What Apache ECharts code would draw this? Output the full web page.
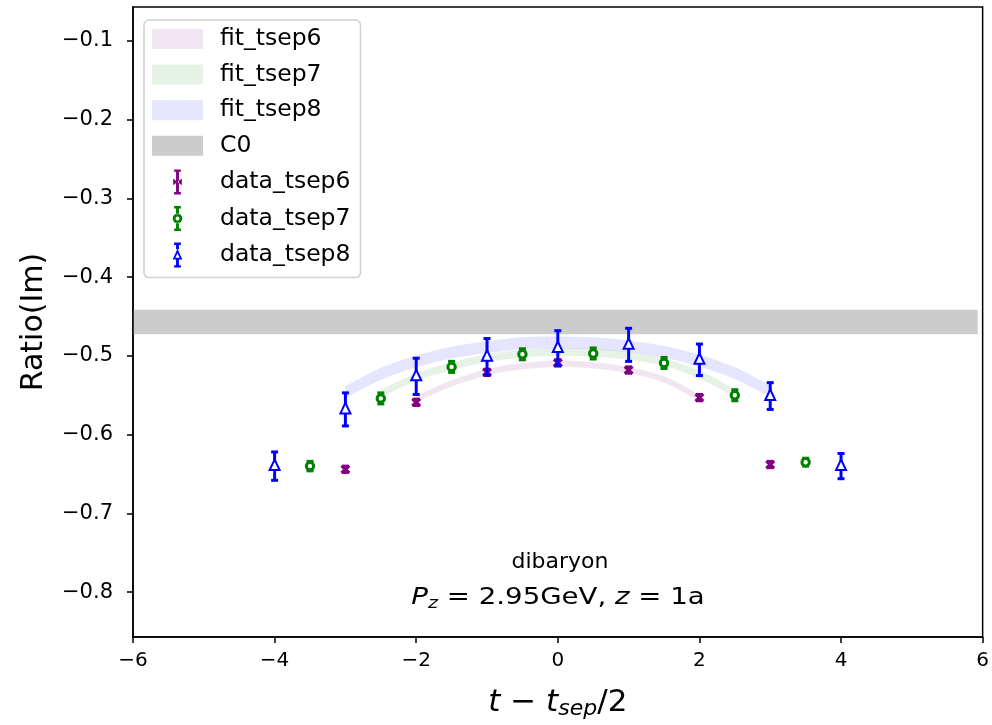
<!DOCTYPE html>
<html><head><meta charset="utf-8">
<script src="https://cdn.jsdelivr.net/npm/echarts@6/dist/echarts.min.js"></script>
<style>html,body{margin:0;padding:0;background:#fff}#c{width:992px;height:725px}</style>
</head><body><div id="c"></div>
<script>
// ---------- data ----------
const xTicks = [-6, -4, -2, 0, 2, 4, 6];
const yTicks = [-0.8, -0.7, -0.6, -0.5, -0.4, -0.3, -0.2, -0.1];

const t6 = [-3, -2, -1, 0, 1, 2, 3];
const r6 = [-0.644, -0.559, -0.521, -0.509, -0.518, -0.553, -0.638];
const e6 = [0.004, 0.004, 0.004, 0.004, 0.004, 0.004, 0.004];

const t7 = [-3.5, -2.5, -1.5, -0.5, 0.5, 1.5, 2.5, 3.5];
const r7 = [-0.640, -0.554, -0.514, -0.498, -0.497, -0.509, -0.550, -0.635];
const e7 = [0.006, 0.007, 0.007, 0.007, 0.007, 0.007, 0.007, 0.005];

const t8 = [-4, -3, -2, -1, 0, 1, 2, 3, 4];
const r8 = [-0.640, -0.568, -0.526, -0.501, -0.490, -0.486, -0.505, -0.551, -0.640];
const e8 = [0.018, 0.021, 0.023, 0.023, 0.022, 0.021, 0.020, 0.017, 0.016];

const fitX6 = [-2, -1.5, -1, -0.5, 0, 0.5, 1, 1.5, 2];
const fit6 = [-0.555, -0.535, -0.521, -0.513, -0.510, -0.512, -0.518, -0.530, -0.553];
const fit6Err = [0.004, 0.004, 0.004, 0.004, 0.004, 0.004, 0.004, 0.004, 0.004];

const fitX7 = [-2.5, -2, -1.5, -1, -0.5, 0, 0.5, 1, 1.5, 2, 2.5];
const fit7 = [-0.548, -0.527, -0.513, -0.503, -0.497, -0.495, -0.496, -0.500, -0.508, -0.524, -0.547];
const fit7Err = [0.005, 0.005, 0.005, 0.005, 0.005, 0.005, 0.005, 0.005, 0.005, 0.005, 0.005];

const fitX8 = [-3, -2.5, -2, -1.5, -1, -0.5, 0, 0.5, 1, 1.5, 2, 2.5, 3];
const fit8 = [-0.546, -0.523, -0.507, -0.496, -0.489, -0.484, -0.483, -0.484, -0.488, -0.495, -0.506, -0.522, -0.545];
const fit8Err = [0.0075, 0.0075, 0.0075, 0.0075, 0.0075, 0.0075, 0.0075, 0.0075, 0.0075, 0.0075, 0.0075, 0.0075, 0.0075];

const c0X = [-6, 5.93];
const c0 = [-0.457, -0.457];
const c0Err = [0.0157, 0.0157];

// ---------- helpers ----------
const FONT = '"DejaVu Sans", sans-serif';

function curve(pts, move) {
  let d = move ? 'M' + pts[0][0] + ',' + pts[0][1] : '';
  const n = pts.length;
  for (let i = 0; i < n - 1; i++) {
    const p0 = pts[i - 1] || pts[i], p1 = pts[i], p2 = pts[i + 1], p3 = pts[i + 2] || pts[i + 1];
    if (n === 2) { d += ' L' + p2[0] + ',' + p2[1]; continue; }
    const c1 = [p1[0] + (p2[0] - p0[0]) / 6, p1[1] + (p2[1] - p0[1]) / 6];
    const c2 = [p2[0] - (p3[0] - p1[0]) / 6, p2[1] - (p3[1] - p1[1]) / 6];
    d += ' C' + c1[0] + ',' + c1[1] + ' ' + c2[0] + ',' + c2[1] + ' ' + p2[0] + ',' + p2[1];
  }
  return d;
}

function bandSeries(name, xs, mid, half, color, z) {
  return {
    type: 'custom', name: name, coordinateSystem: 'cartesian2d', z: z,
    itemStyle: { color: color },
    data: xs.map((x, i) => [x, mid[i] - half[i], mid[i] + half[i]]),
    encode: { x: 0, y: [1, 2] },
    silent: true,
    renderItem: function (params, api) {
      if (params.dataIndex !== 0) return;
      const up = xs.map((x, i) => api.coord([x, mid[i] + half[i]]));
      const lo = xs.map((x, i) => api.coord([x, mid[i] - half[i]])).reverse();
      const d = curve(up, true) + ' L' + lo[0][0] + ',' + lo[0][1] + curve(lo, false) + ' Z';
      return { type: 'path', shape: { pathData: d }, style: { fill: color } };
    }
  };
}

function dataSeries(name, xs, ys, es, color, marker) {
  return {
    type: 'custom', name: name, coordinateSystem: 'cartesian2d', z: 5,
    itemStyle: { color: color },
    data: xs.map((x, i) => [x, ys[i], es[i]]),
    encode: { x: 0, y: 1 },
    renderItem: function (params, api) {
      const x = api.value(0), y = api.value(1), e = api.value(2);
      const p = api.coord([x, y]);
      const top = api.coord([x, y + e])[1], bot = api.coord([x, y - e])[1];
      const lw = 3, cap = 3.5;
      const st = { stroke: color, lineWidth: lw };
      const ch = [
        { type: 'line', shape: { x1: p[0], y1: top, x2: p[0], y2: bot }, style: st },
        { type: 'line', shape: { x1: p[0] - cap, y1: top, x2: p[0] + cap, y2: top }, style: st },
        { type: 'line', shape: { x1: p[0] - cap, y1: bot, x2: p[0] + cap, y2: bot }, style: st }
      ];
      if (marker === 'tri') {
        ch.push({ type: 'polygon', shape: { points: [[p[0], p[1] - 6.5], [p[0] - 5, p[1] + 4], [p[0] + 5, p[1] + 4]] },
          style: { fill: '#fff', stroke: color, lineWidth: 2 } });
      } else if (marker === 'circ') {
        ch.push({ type: 'circle', shape: { cx: p[0], cy: p[1], r: 3.7 }, style: { fill: '#fff', stroke: color, lineWidth: 3 } });
      } else {
        ch.push({ type: 'line', shape: { x1: p[0] - 4, y1: p[1] - 3.5, x2: p[0] + 4, y2: p[1] + 3.5 }, style: { stroke: color, lineWidth: 3 } });
        ch.push({ type: 'line', shape: { x1: p[0] - 4, y1: p[1] + 3.5, x2: p[0] + 4, y2: p[1] - 3.5 }, style: { stroke: color, lineWidth: 3 } });
      }
      return { type: 'group', children: ch };
    }
  };
}

const iconRect = 'path://M0,0H51V20H0Z';
const icon6 = 'path://M3.5,0H6.5V26H3.5Z M1.5,0H8.5V2.5H1.5Z M1.5,23.5H8.5V26H1.5Z M0.5,9.5L9.5,16.5L9.5,9.5L0.5,16.5Z';
const icon7 = 'path://M3.5,0H6.5V8.5H3.5Z M3.5,17.5H6.5V26H3.5Z M1.5,0H8.5V2.5H1.5Z M1.5,23.5H8.5V26H1.5Z M0,13A5,5 0 1 0 10,13A5,5 0 1 0 0,13Z M3,13A2,2 0 1 1 7,13A2,2 0 1 1 3,13Z';
const icon8 = 'path://M3.5,0H6.5V7H3.5Z M3.5,17.5H6.5V26H3.5Z M1.5,0H8.5V2.5H1.5Z M1.5,23.5H8.5V26H1.5Z M5,6.5L0,17.5L10,17.5Z M5,11L7.3,15.7L2.7,15.7Z';

const fmtMinus = v => (v < 0 ? '\u2212' : '') + Math.abs(v).toFixed(1);

const chart = echarts.init(document.getElementById('c'), null, { renderer: 'canvas' });
chart.setOption({
  animation: false,
  backgroundColor: '#fff',
  grid: { left: 133, right: 7, top: 7, bottom: 82, show: true, borderColor: '#000', borderWidth: 1.5, backgroundColor: 'transparent' },
  xAxis: {
    type: 'value', min: -6, max: 6, interval: 2,
    axisLine: { show: true, onZero: false, lineStyle: { color: '#000', width: 1.5 } },
    axisTick: { show: true, length: 6, lineStyle: { color: '#000', width: 1.5 } },
    splitLine: { show: false },
    axisLabel: { color: '#000', fontFamily: FONT, fontSize: 20, margin: 14, formatter: v => (v < 0 ? '\u2212' : '') + Math.abs(v) },
    name: '{i|t}{n| \u2212 }{i|t}{s|sep}{n|/2}', nameLocation: 'middle', nameGap: 48,
    nameTextStyle: { rich: {
      i: { fontFamily: FONT, fontStyle: 'italic', fontSize: 31, color: '#000' },
      n: { fontFamily: FONT, fontSize: 31, color: '#000' },
      s: { fontFamily: FONT, fontStyle: 'italic', fontSize: 22, color: '#000', padding: [13, 0, 0, 0] }
    } }
  },
  yAxis: {
    type: 'value', min: -0.857, max: -0.057,
    axisLine: { show: true, onZero: false, lineStyle: { color: '#000', width: 1.5 } },
    axisTick: { show: true, length: 6, customValues: yTicks, lineStyle: { color: '#000', width: 1.5 } },
    splitLine: { show: false },
    axisLabel: { color: '#000', fontFamily: FONT, fontSize: 21, margin: 20, customValues: yTicks, formatter: fmtMinus },
    name: 'Ratio(Im)', nameLocation: 'middle', nameGap: 84,
    nameTextStyle: { fontFamily: FONT, fontSize: 30, color: '#000' }
  },
  legend: {
    orient: 'vertical', left: 144, top: 20,
    padding: [7, 10, 10, 8], itemWidth: 51, itemHeight: 25, itemGap: 11.6,
    backgroundColor: 'rgba(255,255,255,0.8)', borderColor: '#d0d0d0', borderWidth: 1.5, borderRadius: 5,
    textStyle: { fontFamily: FONT, fontSize: 23.5, color: '#000', padding: [0, 0, 0, 12] },
    selectedMode: false,
    data: [
      { name: 'fit_tsep6', icon: iconRect },
      { name: 'fit_tsep7', icon: iconRect },
      { name: 'fit_tsep8', icon: iconRect },
      { name: 'C0', icon: iconRect },
      { name: 'data_tsep6', icon: icon6 },
      { name: 'data_tsep7', icon: icon7 },
      { name: 'data_tsep8', icon: icon8 }
    ]
  },
  graphic: [
    { type: 'text', x: 560, y: 562, z: 10, style: { text: 'dibaryon', align: 'center', verticalAlign: 'middle', font: '22px "DejaVu Sans", sans-serif', fill: '#000' } },
    { type: 'text', x: 558, y: 598, z: 10, scaleX: 1.2, style: {
      text: '{i|P}{s|z}{n| = 2.95GeV, }{i|z}{n| = 1a}', align: 'center', verticalAlign: 'middle',
      rich: {
        i: { fontFamily: FONT, fontStyle: 'italic', fontSize: 23, fill: '#000' },
        n: { fontFamily: FONT, fontSize: 23, fill: '#000' },
        s: { fontFamily: FONT, fontStyle: 'italic', fontSize: 16, fill: '#000', padding: [11, 0, 0, 0] }
      } } }
  ],
  series: [
    bandSeries('fit_tsep6', fitX6, fit6, fit6Err, 'rgba(128,0,128,0.1)', 1),
    bandSeries('fit_tsep7', fitX7, fit7, fit7Err, 'rgba(0,128,0,0.1)', 1),
    bandSeries('fit_tsep8', fitX8, fit8, fit8Err, 'rgba(0,0,255,0.1)', 1),
    bandSeries('C0', c0X, c0, c0Err, 'rgba(128,128,128,0.4)', 1),
    dataSeries('data_tsep6', t6, r6, e6, 'purple', 'x'),
    dataSeries('data_tsep7', t7, r7, e7, 'green', 'circ'),
    dataSeries('data_tsep8', t8, r8, e8, 'blue', 'tri')
  ]
});
</script>
</body></html>
